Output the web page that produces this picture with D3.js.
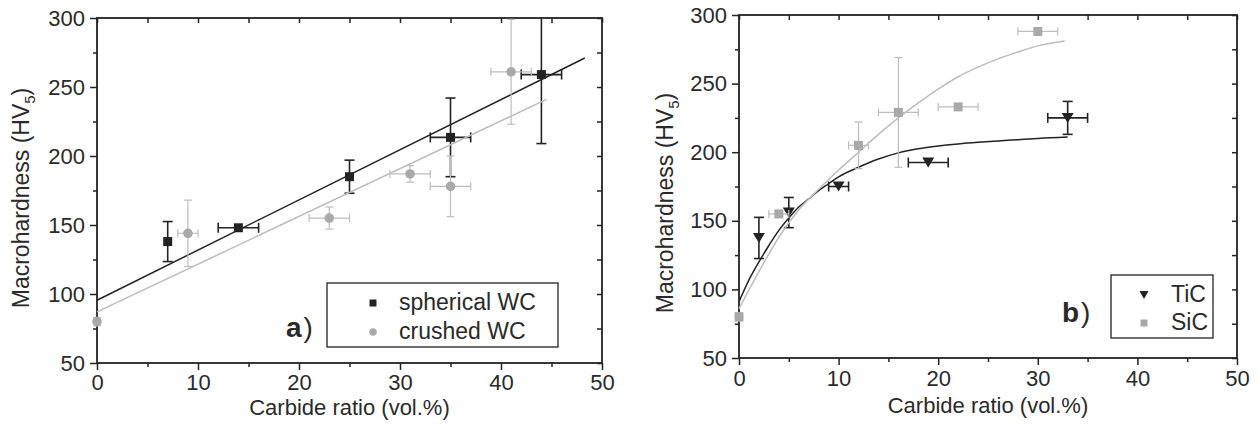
<!DOCTYPE html>
<html>
<head>
<meta charset="utf-8">
<script src="https://d3js.org/d3.v7.min.js"></script>
<style>
  body { margin: 0; background: #fff; }
  text { font-family: "Liberation Sans", Arial, sans-serif; fill: #2a2a2a; }
</style>
</head>
<body>
<div id="graph"></div>
<script>

// ---- data ----
var xTicks = [0, 10, 20, 30, 40, 50];
var xMinor = [5, 15, 25, 35, 45];
var yTicks = [50, 100, 150, 200, 250, 300];
var yMinor = [75, 125, 175, 225, 275];

// panel a) spherical WC
var sphX    = [7, 14, 25, 35, 44];
var sphY    = [138, 148, 185, 213.5, 259];
var sphYErr = [14.5, 0, 12, 28.5, 50];
var sphXErr = [0, 2, 0, 2, 2];
var sphFit  = [[0, 95.5], [48.3, 271]];

// panel a) crushed WC
var crX    = [0, 9, 23, 31, 35, 41];
var crY    = [80, 144, 155, 187, 178, 261];
var crYErr = [3, 24, 8, 6, 22, 38];
var crXErr = [0, 1, 2, 2, 2, 2];
var crFit  = [[0, 87], [44.5, 241]];

// panel b) TiC
var ticX    = [2, 5, 10, 19, 33];
var ticY    = [137.5, 156, 175, 192.5, 225];
var ticYErr = [15, 11, 0, 0, 12];
var ticXErr = [0, 0, 1, 2, 2];
var ticFit  = [[0, 91], [1, 107], [2, 120], [3, 132], [4, 143], [5, 152], [6, 160], [7, 166],
               [8, 172], [9, 177], [10, 182], [12, 189], [14, 195], [16, 199.5], [18, 202.5],
               [20, 204.5], [22, 206], [24, 207.2], [26, 208.2], [28, 209.1], [30, 210], [33, 211]];

// panel b) SiC
var sicX    = [0, 4, 12, 16, 22, 30];
var sicY    = [80, 155, 205, 229, 233, 288];
var sicYErr = [3, 0, 17, 40, 0, 0];
var sicXErr = [0, 1, 1, 2, 2, 2];
var sicFit  = [[0, 86], [2, 113], [4, 138], [6, 158], [8, 173], [10, 187], [12, 200], [14, 213],
               [16, 225], [18, 236], [20, 246], [22, 255], [24, 262], [26, 268], [28, 273],
               [30, 277.5], [32.7, 281]];

var dark = "#232323", grey = "#a9a9a9", greyLine = "#bdbdbd";

var svg = d3.select("#graph").append("svg")
    .attr("width", 1259)
    .attr("height", 425);

function zip(xs, ys, yes, xes) {
  return xs.map(function(d, i) { return {x: d, y: ys[i], ye: yes[i], xe: xes[i]}; });
}

function drawPanel(p) {
  var x = d3.scaleLinear().domain([0, 50]).range([p.left, p.right]);
  var y = d3.scaleLinear().domain([50, 300]).range([p.bottom, p.top]);
  var g = svg.append("g");

  // minor + major ticks, outward on left/bottom
  g.append("g").attr("transform", "translate(0," + p.bottom + ")")
    .call(d3.axisBottom(x).tickValues(xMinor).tickSize(4).tickSizeOuter(0).tickFormat(""));
  g.append("g").attr("transform", "translate(0," + p.bottom + ")")
    .call(d3.axisBottom(x).tickValues(xTicks).tickSize(7).tickSizeOuter(0).tickPadding(p.xPad))
    .selectAll("text").attr("font-size", 22);
  g.append("g").attr("transform", "translate(" + p.left + ",0)")
    .call(d3.axisLeft(y).tickValues(yMinor).tickSize(4).tickSizeOuter(0).tickFormat(""));
  g.append("g").attr("transform", "translate(" + p.left + ",0)")
    .call(d3.axisLeft(y).tickValues(yTicks).tickSize(7).tickSizeOuter(0).tickPadding(5))
    .selectAll("text").attr("font-size", 22);
  // inward ticks on top/right
  g.append("g").attr("transform", "translate(0," + p.top + ")")
    .call(d3.axisTop(x).tickValues(xMinor.concat(xTicks)).tickSize(-5).tickSizeOuter(0).tickFormat(""));
  g.append("g").attr("transform", "translate(" + p.right + ",0)")
    .call(d3.axisRight(y).tickValues(yMinor.concat(yTicks)).tickSize(-5).tickSizeOuter(0).tickFormat(""));

  g.selectAll(".domain").remove();
  g.selectAll(".tick line").attr("stroke", dark).attr("stroke-width", 1.5);
  g.selectAll(".tick text").style("fill", "#2a2a2a")
    .style("font-family", "'Liberation Sans', Arial, sans-serif");

  g.append("rect")
    .attr("x", p.left).attr("y", p.top)
    .attr("width", p.right - p.left).attr("height", p.bottom - p.top)
    .attr("fill", "none").attr("stroke", dark).attr("stroke-width", 1.8);

  // axis titles
  g.append("text")
    .attr("x", (p.left + p.right) / 2).attr("y", p.xTitleY)
    .attr("text-anchor", "middle").attr("font-size", 22)
    .text("Carbide ratio (vol.%)");
  var yt = g.append("text")
    .attr("transform", "translate(" + p.yTitleX + "," + p.yTitleY + ") rotate(-90)")
    .attr("text-anchor", "middle").attr("font-size", 23);
  yt.append("tspan").text("Macrohardness (HV");
  yt.append("tspan").attr("font-size", 15).attr("dy", 6).text("5");
  yt.append("tspan").attr("dy", -6).text(")");

  var plot = g.append("g");
  var line = d3.line().x(function(d) { return x(d[0]); }).y(function(d) { return y(d[1]); });

  p.series.forEach(function(s) {
    var pts = zip(s.x, s.y, s.ye, s.xe);
    var col = s.color, lcol = s.dark ? dark : greyLine;

    plot.append("path").datum(s.fit)
      .attr("d", s.curve ? line.curve(d3.curveMonotoneX) : line.curve(d3.curveLinear))
      .attr("fill", "none").attr("stroke", lcol).attr("stroke-width", 1.5);

    var eb = plot.append("g").attr("stroke", lcol).attr("stroke-width", s.dark ? 1.6 : 1.2);
    var cap = s.dark ? 5 : 4;
    pts.forEach(function(d) {
      if (d.ye > 0) {
        var y1 = Math.max(y(d.y + d.ye), p.top), y2 = y(d.y - d.ye);
        eb.append("line").attr("x1", x(d.x)).attr("x2", x(d.x)).attr("y1", y1).attr("y2", y2);
        if (y(d.y + d.ye) >= p.top)
          eb.append("line").attr("x1", x(d.x) - cap).attr("x2", x(d.x) + cap).attr("y1", y1).attr("y2", y1);
        eb.append("line").attr("x1", x(d.x) - cap).attr("x2", x(d.x) + cap).attr("y1", y2).attr("y2", y2);
      }
      if (d.xe > 0) {
        var x1 = x(d.x - d.xe), x2 = x(d.x + d.xe);
        eb.append("line").attr("x1", x1).attr("x2", x2).attr("y1", y(d.y)).attr("y2", y(d.y));
        eb.append("line").attr("x1", x1).attr("x2", x1).attr("y1", y(d.y) - cap).attr("y2", y(d.y) + cap);
        eb.append("line").attr("x1", x2).attr("x2", x2).attr("y1", y(d.y) - cap).attr("y2", y(d.y) + cap);
      }
    });

    plot.selectAll(null).data(pts).enter().append("path")
      .attr("transform", function(d) { return "translate(" + x(d.x) + "," + y(d.y) + ")"; })
      .attr("d", s.shape)
      .attr("fill", col);
  });

  // legend
  var lg = g.append("g");
  lg.append("rect")
    .attr("x", p.legend.x).attr("y", p.legend.y)
    .attr("width", p.legend.w).attr("height", p.legend.h)
    .attr("fill", "#fff").attr("stroke", dark).attr("stroke-width", 1.3);
  p.series.forEach(function(s, i) {
    var cy = p.legend.y + p.legend.first + i * p.legend.step;
    lg.append("path")
      .attr("transform", "translate(" + p.legend.sx + "," + (cy - 7) + ")")
      .attr("d", s.legendShape || s.shape).attr("fill", s.color);
    lg.append("text").attr("x", p.legend.tx).attr("y", cy)
      .attr("font-size", 23).text(s.name);
  });

  var tag = g.append("text").attr("x", p.tag.x).attr("y", p.tag.y).attr("font-size", 28);
  tag.append("tspan").attr("font-weight", "bold").text(p.tag.letter);
  tag.append("tspan").attr("dx", 2).text(")");
}

var square = function(h) { return "M" + (-h) + "," + (-h) + "h" + (2 * h) + "v" + (2 * h) + "h" + (-2 * h) + "Z"; };
var circle = function(r) { return d3.symbol().type(d3.symbolCircle).size(Math.PI * r * r)(); };
var tri = function(w, h) { return "M" + (-w / 2) + "," + (-h / 2) + "L" + (w / 2) + "," + (-h / 2) + "L0," + (h / 2) + "Z"; };

drawPanel({
  left: 97, right: 602, top: 18, bottom: 363,
  xPad: 4, xTitleY: 415, yTitleX: 29, yTitleY: 198,
  legend: {x: 327, y: 283, w: 231, h: 64, first: 27, step: 29, sx: 373, tx: 399},
  tag: {x: 286, y: 337, letter: "a"},
  series: [
    {name: "spherical WC", x: sphX, y: sphY, ye: sphYErr, xe: sphXErr, fit: sphFit,
     color: dark, dark: true, shape: square(4.5), legendShape: square(3.5)},
    {name: "crushed WC", x: crX, y: crY, ye: crYErr, xe: crXErr, fit: crFit,
     color: grey, dark: false, shape: circle(4.8), legendShape: circle(3.8)}
  ]
});

drawPanel({
  left: 739, right: 1237, top: 15, bottom: 358,
  xPad: 5, xTitleY: 413, yTitleX: 673, yTitleY: 203,
  legend: {x: 1111, y: 275, w: 102, h: 63, first: 27, step: 28, sx: 1144, tx: 1171},
  tag: {x: 1062, y: 322, letter: "b"},
  series: [
    {name: "TiC", x: ticX, y: ticY, ye: ticYErr, xe: ticXErr, fit: ticFit, curve: true,
     color: dark, dark: true, shape: tri(12, 10), legendShape: tri(9, 8)},
    {name: "SiC", x: sicX, y: sicY, ye: sicYErr, xe: sicXErr, fit: sicFit, curve: true,
     color: grey, dark: false, shape: square(4.5), legendShape: square(3.5)}
  ]
});

</script>
</body>
</html>
